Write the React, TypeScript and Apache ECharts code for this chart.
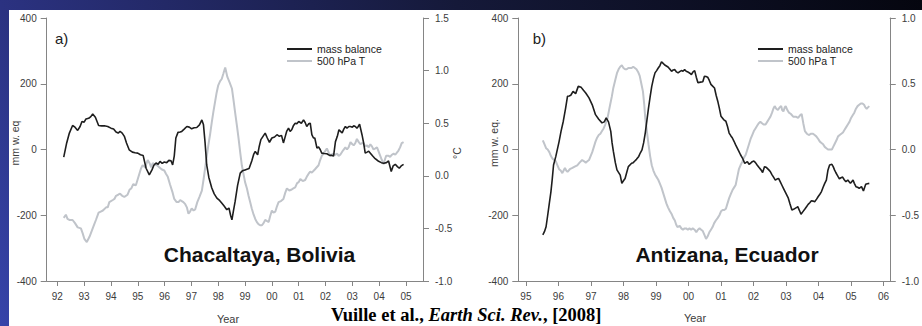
import React, { useEffect, useRef } from "react";
import * as echarts from "echarts";

// ---------- data ----------
const yearTicksA = [92, 93, 94, 95, 96, 97, 98, 99, 100, 101, 102, 103, 104, 105];
const yearTicksB = [95, 96, 97, 98, 99, 100, 101, 102, 103, 104, 105, 106];

// Chacaltaya, Bolivia – mass balance (mm w. eq.)
const chacaltayaMassBalance: [number, number][] = [
  [92.24, -23], [92.35, 20], [92.45, 50], [92.57, 73], [92.66, 68], [92.76, 58], [92.85, 70], [92.92, 85],
  [93.0, 83], [93.07, 93], [93.17, 95], [93.25, 100], [93.32, 108], [93.42, 98], [93.54, 73], [93.65, 72],
  [93.75, 72], [93.88, 70], [94.0, 65], [94.1, 62], [94.19, 53], [94.27, 50], [94.34, 55], [94.42, 50],
  [94.5, 40], [94.58, 20], [94.68, -1], [94.8, -8], [94.9, -10], [95.0, -11], [95.1, -16], [95.2, -18],
  [95.31, -57], [95.43, -77], [95.53, -62], [95.6, -48], [95.68, -41], [95.76, -45], [95.83, -36], [95.91, -42],
  [95.99, -38], [96.08, -40], [96.16, -33], [96.24, -34], [96.3, -47], [96.36, -20], [96.42, 35], [96.5, 52],
  [96.58, 53], [96.64, 55], [96.73, 62], [96.83, 70], [96.92, 68], [97.01, 63], [97.1, 66], [97.2, 67],
  [97.3, 75], [97.39, 90], [97.45, 75], [97.51, 20], [97.57, -47], [97.65, -85], [97.76, -117], [97.85, -135],
  [97.95, -148], [98.05, -155], [98.13, -163], [98.22, -172], [98.32, -183], [98.4, -178], [98.46, -200], [98.51, -214],
  [98.57, -185], [98.63, -158], [98.72, -110], [98.82, -72], [98.9, -65], [99.0, -62], [99.07, -60], [99.15, -58],
  [99.25, -35], [99.32, -15], [99.38, -6], [99.47, -16], [99.53, 10], [99.59, 30], [99.67, 40], [99.75, 50],
  [99.83, 35], [99.91, 22], [100.0, 35], [100.1, 38], [100.19, 45], [100.28, 40], [100.36, 43], [100.43, 20],
  [100.5, 40], [100.55, 55], [100.62, 65], [100.68, 55], [100.74, 60], [100.8, 72], [100.87, 80], [100.93, 78],
  [101.0, 85], [101.1, 80], [101.18, 90], [101.24, 82], [101.3, 70], [101.37, 78], [101.43, 80], [101.49, 45],
  [101.55, 35], [101.6, 35], [101.68, 4], [101.74, 8], [101.8, 0], [101.86, -11], [101.95, -12], [102.05, -13],
  [102.15, -18], [102.24, -18], [102.3, -20], [102.37, 24], [102.44, 40], [102.5, 60], [102.56, 55], [102.62, 50],
  [102.68, 62], [102.74, 70], [102.8, 65], [102.87, 70], [102.93, 70], [103.0, 68], [103.05, 72], [103.11, 70],
  [103.17, 65], [103.22, 70], [103.27, 77], [103.36, 45], [103.42, 20], [103.48, -11], [103.55, -8], [103.61, -5],
  [103.68, -12], [103.76, -20], [103.85, -28], [103.92, -32], [103.98, -36], [104.08, -40], [104.17, -42], [104.27, -40],
  [104.35, -35], [104.45, -67], [104.52, -50], [104.6, -45], [104.68, -52], [104.75, -57], [104.82, -50], [104.91, -45],
];

// Chacaltaya, Bolivia – 500 hPa temperature anomaly (°C)
const chacaltayaTemperature: [number, number][] = [
  [92.24, -0.4], [92.32, -0.37], [92.38, -0.41], [92.45, -0.42], [92.57, -0.42], [92.66, -0.45], [92.76, -0.49], [92.88, -0.5],
  [92.95, -0.55], [93.01, -0.6], [93.1, -0.63], [93.2, -0.58], [93.26, -0.54], [93.32, -0.5], [93.38, -0.46], [93.44, -0.42],
  [93.54, -0.35], [93.62, -0.34], [93.7, -0.33], [93.82, -0.3], [93.88, -0.3], [93.94, -0.25], [94.07, -0.23], [94.13, -0.22],
  [94.19, -0.19], [94.27, -0.18], [94.34, -0.17], [94.42, -0.19], [94.5, -0.2], [94.62, -0.18], [94.7, -0.13], [94.76, -0.12],
  [94.83, -0.08], [94.93, -0.09], [95.06, 0.02], [95.12, 0.07], [95.18, 0.1], [95.28, 0.08], [95.37, 0.15], [95.44, 0.12],
  [95.5, 0.08], [95.56, 0.12], [95.62, 0.11], [95.72, 0.1], [95.81, 0.08], [95.9, 0.06], [95.99, 0.05], [96.05, 0.02],
  [96.12, -0.01], [96.2, -0.08], [96.3, -0.16], [96.36, -0.22], [96.45, -0.25], [96.52, -0.25], [96.58, -0.23], [96.64, -0.24],
  [96.7, -0.25], [96.77, -0.27], [96.83, -0.3], [96.89, -0.36], [96.95, -0.34], [97.01, -0.31], [97.08, -0.33], [97.14, -0.32],
  [97.22, -0.25], [97.3, -0.2], [97.39, -0.14], [97.45, -0.04], [97.51, 0.07], [97.57, 0.18], [97.63, 0.29], [97.7, 0.4],
  [97.76, 0.51], [97.82, 0.61], [97.88, 0.7], [97.94, 0.79], [98.0, 0.86], [98.07, 0.9], [98.13, 0.92], [98.19, 0.97],
  [98.26, 1.03], [98.34, 0.94], [98.42, 0.89], [98.51, 0.83], [98.57, 0.72], [98.63, 0.6], [98.7, 0.47], [98.76, 0.35],
  [98.82, 0.22], [98.88, 0.1], [98.94, 0.02], [99.0, -0.06], [99.07, -0.12], [99.13, -0.19], [99.19, -0.25], [99.25, -0.31],
  [99.32, -0.37], [99.38, -0.41], [99.44, -0.44], [99.5, -0.46], [99.56, -0.47], [99.63, -0.47], [99.69, -0.45], [99.75, -0.42],
  [99.82, -0.43], [99.88, -0.44], [99.94, -0.38], [100.0, -0.33], [100.06, -0.35], [100.13, -0.34], [100.19, -0.29], [100.25, -0.25],
  [100.34, -0.24], [100.43, -0.22], [100.5, -0.16], [100.56, -0.12], [100.65, -0.14], [100.74, -0.13], [100.8, -0.12], [100.87, -0.11],
  [100.94, -0.07], [101.0, -0.06], [101.06, -0.03], [101.15, -0.05], [101.24, -0.04], [101.3, -0.01], [101.37, 0.02], [101.43, 0.04],
  [101.49, 0.03], [101.6, 0.06], [101.74, 0.1], [101.8, 0.15], [101.86, 0.19], [101.95, 0.22], [102.05, 0.26], [102.12, 0.22],
  [102.18, 0.19], [102.27, 0.21], [102.36, 0.2], [102.43, 0.21], [102.49, 0.19], [102.55, 0.2], [102.65, 0.24], [102.74, 0.27],
  [102.8, 0.25], [102.86, 0.27], [102.93, 0.32], [103.0, 0.3], [103.05, 0.29], [103.11, 0.31], [103.17, 0.35], [103.24, 0.32],
  [103.3, 0.3], [103.36, 0.31], [103.42, 0.31], [103.48, 0.28], [103.55, 0.29], [103.61, 0.27], [103.67, 0.3], [103.73, 0.28],
  [103.79, 0.25], [103.86, 0.26], [103.92, 0.27], [103.98, 0.23], [104.04, 0.19], [104.1, 0.15], [104.17, 0.11], [104.22, 0.16],
  [104.26, 0.19], [104.35, 0.19], [104.41, 0.18], [104.47, 0.2], [104.54, 0.21], [104.6, 0.2], [104.66, 0.22], [104.72, 0.24],
  [104.78, 0.27], [104.84, 0.31], [104.91, 0.32],
];

// Antizana, Ecuador – mass balance (mm w. eq.)
const antizanaMassBalance: [number, number][] = [
  [95.52, -260], [95.57, -250], [95.62, -235], [95.67, -200], [95.72, -164], [95.77, -128], [95.81, -90], [95.85, -47],
  [95.92, -21], [96.02, 24], [96.08, 55], [96.15, 86], [96.22, 125], [96.28, 162], [96.33, 163], [96.38, 165],
  [96.45, 177], [96.53, 170], [96.61, 192], [96.7, 189], [96.77, 180], [96.84, 172], [96.94, 157], [97.04, 136],
  [97.14, 106], [97.24, 92], [97.34, 81], [97.41, 84], [97.47, 96], [97.54, 84], [97.61, 55], [97.65, 20],
  [97.69, -6], [97.75, -40], [97.8, -62], [97.9, -78], [97.95, -103], [98.0, -95], [98.05, -88], [98.1, -70],
  [98.15, -52], [98.25, -42], [98.3, -40], [98.35, -35], [98.4, -30], [98.47, -21], [98.52, -10], [98.57, -1],
  [98.62, 20], [98.67, 50], [98.72, 88], [98.77, 126], [98.82, 160], [98.87, 192], [98.92, 215], [98.97, 233],
  [99.02, 240], [99.07, 248], [99.12, 255], [99.17, 267], [99.22, 262], [99.27, 257], [99.32, 254], [99.37, 251],
  [99.43, 244], [99.48, 238], [99.53, 242], [99.58, 243], [99.63, 236], [99.68, 233], [99.73, 237], [99.78, 240],
  [99.83, 238], [99.88, 243], [99.93, 238], [99.98, 236], [100.04, 232], [100.09, 228], [100.14, 236], [100.19, 240],
  [100.24, 220], [100.29, 203], [100.37, 205], [100.44, 206], [100.49, 223], [100.54, 222], [100.59, 220], [100.64, 210],
  [100.69, 198], [100.75, 192], [100.8, 187], [100.85, 165], [100.9, 147], [100.95, 125], [101.0, 101], [101.08, 91],
  [101.15, 86], [101.2, 70], [101.25, 50], [101.3, 42], [101.35, 35], [101.4, 25], [101.45, 14], [101.5, 4],
  [101.55, -6], [101.6, -16], [101.66, -26], [101.73, -42], [101.81, -37], [101.86, -45], [101.91, -42], [101.96, -37],
  [102.01, -35], [102.06, -40], [102.11, -47], [102.17, -55], [102.23, -62], [102.28, -70], [102.34, -52], [102.4, -55],
  [102.47, -62], [102.52, -68], [102.57, -77], [102.62, -85], [102.67, -93], [102.72, -90], [102.77, -88], [102.82, -98],
  [102.87, -108], [102.92, -118], [102.97, -128], [103.02, -138], [103.07, -148], [103.12, -165], [103.18, -184], [103.23, -182],
  [103.28, -179], [103.33, -176], [103.36, -174], [103.41, -185], [103.46, -197], [103.52, -189], [103.58, -181], [103.63, -174],
  [103.68, -167], [103.73, -162], [103.78, -156], [103.83, -157], [103.88, -159], [103.94, -151], [103.99, -143], [104.04, -136],
  [104.09, -128], [104.14, -115], [104.19, -103], [104.24, -93], [104.29, -62], [104.34, -47], [104.41, -45], [104.45, -52],
  [104.49, -62], [104.53, -70], [104.57, -77], [104.61, -84], [104.64, -89], [104.69, -86], [104.74, -84], [104.79, -92],
  [104.84, -98], [104.9, -93], [104.94, -98], [104.98, -103], [105.02, -98], [105.06, -93], [105.1, -103], [105.15, -113],
  [105.2, -115], [105.25, -118], [105.32, -113], [105.38, -126], [105.45, -106], [105.5, -104], [105.56, -103],
];

// Antizana, Ecuador – 500 hPa temperature anomaly (°C)
const antizanaTemperature: [number, number][] = [
  [95.52, 0.07], [95.57, 0.04], [95.62, 0.01], [95.67, 0.0], [95.72, -0.02], [95.77, -0.05], [95.82, -0.07], [95.87, -0.08],
  [95.92, -0.09], [95.97, -0.12], [96.02, -0.15], [96.07, -0.16], [96.12, -0.18], [96.16, -0.16], [96.2, -0.14], [96.24, -0.16],
  [96.28, -0.17], [96.35, -0.15], [96.43, -0.14], [96.5, -0.13], [96.58, -0.12], [96.65, -0.1], [96.73, -0.08], [96.79, -0.09],
  [96.84, -0.1], [96.89, -0.09], [96.94, -0.08], [96.99, -0.05], [97.04, -0.02], [97.09, 0.02], [97.14, 0.06], [97.19, 0.09],
  [97.24, 0.11], [97.29, 0.12], [97.34, 0.14], [97.39, 0.16], [97.44, 0.19], [97.51, 0.24], [97.55, 0.29], [97.59, 0.34],
  [97.64, 0.4], [97.69, 0.47], [97.75, 0.53], [97.8, 0.58], [97.85, 0.61], [97.9, 0.63], [97.95, 0.64], [98.0, 0.62],
  [98.05, 0.61], [98.1, 0.61], [98.15, 0.62], [98.2, 0.62], [98.25, 0.62], [98.3, 0.63], [98.35, 0.62], [98.4, 0.61],
  [98.45, 0.59], [98.5, 0.56], [98.55, 0.5], [98.6, 0.44], [98.64, 0.34], [98.67, 0.24], [98.72, 0.14], [98.77, 0.04],
  [98.82, -0.05], [98.87, -0.12], [98.92, -0.16], [98.97, -0.19], [99.02, -0.21], [99.07, -0.23], [99.12, -0.26], [99.17, -0.29],
  [99.22, -0.33], [99.27, -0.37], [99.32, -0.41], [99.37, -0.44], [99.43, -0.47], [99.48, -0.49], [99.53, -0.52], [99.58, -0.54],
  [99.62, -0.57], [99.66, -0.59], [99.73, -0.58], [99.78, -0.6], [99.83, -0.61], [99.88, -0.6], [99.93, -0.6], [99.98, -0.61],
  [100.03, -0.6], [100.08, -0.61], [100.13, -0.6], [100.19, -0.61], [100.24, -0.63], [100.29, -0.61], [100.34, -0.6], [100.39, -0.61],
  [100.44, -0.62], [100.49, -0.65], [100.54, -0.68], [100.59, -0.66], [100.64, -0.63], [100.69, -0.61], [100.74, -0.59], [100.79, -0.56],
  [100.84, -0.54], [100.9, -0.52], [100.95, -0.5], [101.0, -0.47], [101.05, -0.46], [101.1, -0.46], [101.15, -0.45], [101.2, -0.41],
  [101.25, -0.37], [101.3, -0.34], [101.35, -0.31], [101.4, -0.29], [101.45, -0.27], [101.5, -0.21], [101.55, -0.15], [101.6, -0.12],
  [101.66, -0.09], [101.71, -0.06], [101.76, -0.04], [101.81, 0.0], [101.86, 0.04], [101.91, 0.08], [101.96, 0.11], [102.01, 0.14],
  [102.06, 0.16], [102.11, 0.18], [102.16, 0.2], [102.21, 0.21], [102.26, 0.2], [102.31, 0.19], [102.37, 0.19], [102.42, 0.21],
  [102.47, 0.23], [102.52, 0.25], [102.57, 0.28], [102.61, 0.31], [102.65, 0.33], [102.7, 0.31], [102.75, 0.3], [102.8, 0.32],
  [102.85, 0.33], [102.88, 0.3], [102.92, 0.29], [102.96, 0.32], [102.99, 0.33], [103.04, 0.3], [103.09, 0.28], [103.15, 0.27],
  [103.22, 0.25], [103.3, 0.25], [103.37, 0.24], [103.43, 0.26], [103.48, 0.27], [103.53, 0.2], [103.58, 0.14], [103.64, 0.12],
  [103.7, 0.11], [103.77, 0.12], [103.83, 0.12], [103.88, 0.11], [103.93, 0.1], [103.99, 0.08], [104.04, 0.06], [104.09, 0.05],
  [104.14, 0.04], [104.19, 0.02], [104.24, 0.01], [104.29, 0.0], [104.34, 0.0], [104.41, 0.0], [104.45, 0.02], [104.49, 0.04],
  [104.55, 0.07], [104.6, 0.1], [104.65, 0.11], [104.7, 0.12], [104.75, 0.13], [104.8, 0.15], [104.85, 0.17], [104.9, 0.19],
  [104.95, 0.21], [105.0, 0.24], [105.05, 0.26], [105.1, 0.28], [105.15, 0.31], [105.2, 0.33], [105.25, 0.34], [105.3, 0.35],
  [105.35, 0.35], [105.4, 0.34], [105.44, 0.32], [105.48, 0.31], [105.52, 0.32], [105.56, 0.33],
];

const legendNames = ["mass balance", "500 hPa T"];

// ---------- styling ----------
const FONT = "'Liberation Sans', Arial, sans-serif";
const SERIF = "'Liberation Serif', 'Times New Roman', serif";
const AXIS_GRAY = "#858585";
const LABEL_COLOR = "#3c3c3c";
const MB_COLOR = "#1e1e1e";
const T_COLOR = "#c0c4ca";

const yearFmt = (v: number) => String(Math.round(v) % 100).padStart(2, "0");

function makeXAxis(gridIndex: number, min: number, max: number, ticks: number[]) {
  return {
    type: "value",
    gridIndex,
    min,
    max,
    axisLine: { show: true, onZero: false, lineStyle: { color: AXIS_GRAY, width: 1 } },
    axisTick: { show: true, customValues: ticks, length: 5, lineStyle: { color: AXIS_GRAY } },
    axisLabel: { customValues: ticks, formatter: yearFmt, margin: 10, fontSize: 10, color: LABEL_COLOR, fontFamily: FONT },
    splitLine: { show: false },
  };
}

function makeYAxis(gridIndex: number, position: "left" | "right", min: number, max: number, interval: number, decimals: number) {
  return {
    type: "value",
    gridIndex,
    position,
    min,
    max,
    interval,
    axisLine: { show: true, onZero: false, lineStyle: { color: AXIS_GRAY, width: 1 } },
    axisTick: { show: true, length: 6, lineStyle: { color: AXIS_GRAY } },
    axisLabel: {
      formatter: (v: number) => v.toFixed(decimals),
      margin: position === "left" ? 10 : 12,
      fontSize: 10,
      color: LABEL_COLOR,
      fontFamily: FONT,
    },
    splitLine: { show: false },
  };
}

function lineSeries(name: string, data: [number, number][], xAxisIndex: number, yAxisIndex: number, color: string, width: number, z: number) {
  return {
    type: "line",
    name,
    data,
    xAxisIndex,
    yAxisIndex,
    showSymbol: false,
    symbol: "none",
    z,
    lineStyle: { color, width },
    itemStyle: { color },
  };
}

function makeLegend(left: number) {
  return {
    data: legendNames,
    orient: "vertical",
    left,
    top: 43,
    padding: 0,
    itemWidth: 25,
    itemHeight: 2,
    itemGap: 0,
    icon: "rect",
    selectedMode: false,
    textStyle: { fontSize: 10.5, color: "#222", fontFamily: FONT, lineHeight: 12 },
  };
}

function txt(x: number, y: number, text: string, fontSize: number, opts: any = {}) {
  return {
    type: "text",
    x,
    y,
    rotation: opts.rotation || 0,
    style: {
      text,
      fontSize,
      fontFamily: opts.fontFamily || FONT,
      fontWeight: opts.fontWeight || "normal",
      fill: opts.fill || LABEL_COLOR,
      align: opts.align || "center",
      verticalAlign: "middle",
    },
    z: 10,
  };
}

export default function App() {
  const ref = useRef<HTMLDivElement>(null);

  useEffect(() => {
    if (!ref.current) return;
    const chart = echarts.init(ref.current, null, { renderer: "svg" });

    const frameFill = new echarts.graphic.LinearGradient(
      0, 326, 922, 0,
      [
        { offset: 0, color: "#3644aa" },
        { offset: 0.11, color: "#2b3281" },
        { offset: 0.55, color: "#151939" },
        { offset: 1, color: "#05060f" },
      ],
      true
    );

    const option: any = {
      animation: false,
      backgroundColor: "#ffffff",
      grid: [
        { left: 46.7, top: 18, width: 376.3, height: 263 },
        { left: 518.3, top: 18, width: 375.7, height: 263 },
      ],
      xAxis: [makeXAxis(0, 91.605, 105.634, yearTicksA), makeXAxis(1, 94.766, 106.19, yearTicksB)],
      yAxis: [
        makeYAxis(0, "left", -400, 400, 200, 0),
        makeYAxis(0, "right", -1.0, 1.5, 0.5, 1),
        makeYAxis(1, "left", -400, 400, 200, 0),
        makeYAxis(1, "right", -1.0, 1.0, 0.5, 1),
      ],
      legend: [makeLegend(287), makeLegend(758)],
      series: [
        lineSeries("500 hPa T", chacaltayaTemperature, 0, 1, T_COLOR, 2, 2),
        lineSeries("mass balance", chacaltayaMassBalance, 0, 0, MB_COLOR, 1.6, 3),
        lineSeries("500 hPa T", antizanaTemperature, 1, 3, T_COLOR, 2, 2),
        lineSeries("mass balance", antizanaMassBalance, 1, 2, MB_COLOR, 1.6, 3),
      ],
      graphic: [
        { type: "rect", shape: { x: 0, y: 0, width: 922, height: 10 }, style: { fill: frameFill }, z: 20 },
        { type: "rect", shape: { x: 0, y: 0, width: 9, height: 326 }, style: { fill: frameFill }, z: 20 },
        txt(55, 38, "a)", 15, { align: "left", fill: "#222" }),
        txt(532.7, 38, "b)", 15, { align: "left", fill: "#222" }),
        txt(259.5, 254, "Chacaltaya, Bolivia", 21, { fontWeight: "bold", fill: "#111" }),
        txt(727, 254, "Antizana, Ecuador", 21, { fontWeight: "bold", fill: "#111" }),
        txt(15, 143, "mm w. eq", 10.5, { rotation: Math.PI / 2 }),
        txt(494, 143, "mm w. eq.", 10.5, { rotation: Math.PI / 2 }),
        txt(457, 153, "°C", 10.5, { rotation: Math.PI / 2 }),
        txt(228, 319, "Year", 11),
        txt(695, 318, "Year", 11),
        {
          type: "text",
          x: 331,
          y: 315,
          z: 10,
          style: {
            text: "{r|Vuille et al., }{i|Earth Sci. Rev.}{r|, [2008]}",
            verticalAlign: "middle",
            align: "left",
            rich: {
              r: { fontFamily: SERIF, fontWeight: "bold", fontSize: 18.5, fill: "#000" },
              i: { fontFamily: SERIF, fontWeight: "bold", fontStyle: "italic", fontSize: 18.5, fill: "#000" },
            },
          },
        },
      ],
    };

    chart.setOption(option);
    return () => chart.dispose();
  }, []);

  return (
    <div
      ref={ref}
      style={{ position: "absolute", left: 0, top: 0, width: 922, height: 326 }}
    />
  );
}
